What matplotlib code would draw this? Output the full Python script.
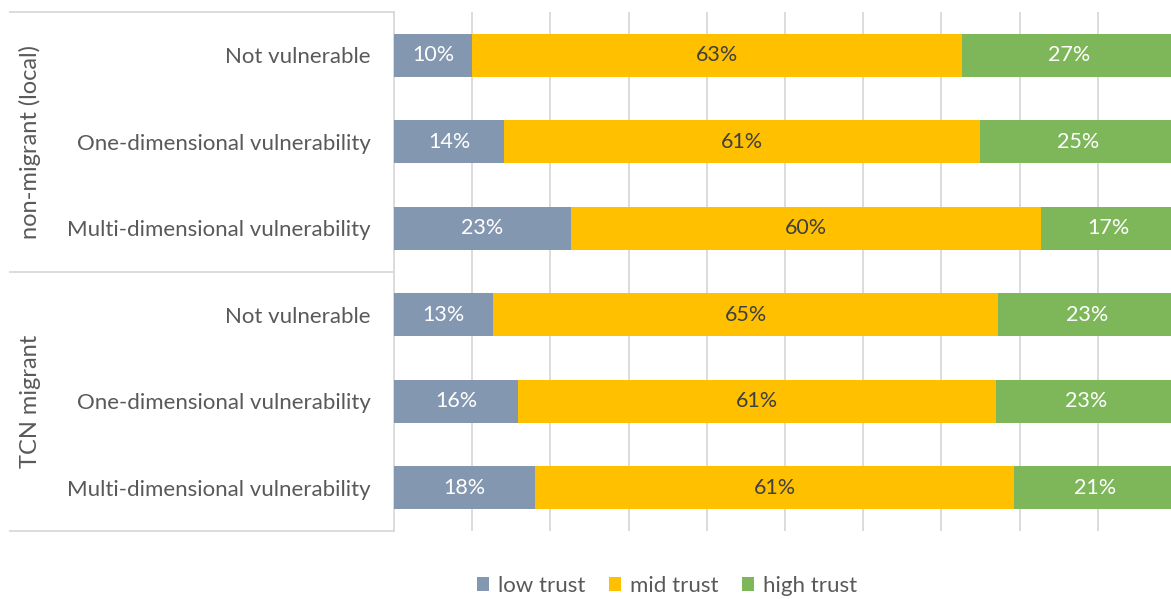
import matplotlib.pyplot as plt

rows = ['Not vulnerable', 'One-dimensional vulnerability', 'Multi-dimensional vulnerability',
        'Not vulnerable', 'One-dimensional vulnerability', 'Multi-dimensional vulnerability']
groups = ['non-migrant (local)', 'TCN migrant']
series = ['low trust', 'mid trust', 'high trust']
low_trust = [0.100, 0.141, 0.226, 0.127, 0.159, 0.180]
mid_trust = [0.626, 0.608, 0.601, 0.646, 0.611, 0.613]
high_trust = [0.274, 0.251, 0.173, 0.227, 0.230, 0.207]

colors = ['#8497B0', '#FFC000', '#7EB75A']
label_colors = ['white', '#404040', 'white']

plt.rcParams['font.family'] = ['Lato', 'DejaVu Sans']
W, H = 1171, 599
fig = plt.figure(figsize=(W / 100, H / 100), dpi=100)
ax = fig.add_axes([394 / W, (H - 531) / H, 782 / W, 519 / H])

y = list(range(len(rows)))
left = [0.0] * len(rows)
for vals, name, c, tc in zip([low_trust, mid_trust, high_trust], series, colors, label_colors):
    bars = ax.barh(y, vals, left=left, height=0.5, color=c, label=name, zorder=3)
    for b, v in zip(bars, vals):
        ax.text(b.get_x() + b.get_width() / 2, b.get_y() + b.get_height() / 2,
                f'{v * 100:.0f}%', ha='center', va='center', color=tc, fontsize=15.5, zorder=4)
    left = [l + v for l, v in zip(left, vals)]

ax.set_xlim(0, 1)
ax.set_ylim(len(rows) - 0.5, -0.5)
ax.set_xticks([i / 10 for i in range(1, 11)])
ax.set_xticklabels([])
ax.tick_params(axis='x', length=0)
ax.grid(axis='x', color='#D9D9D9', linewidth=1.3, zorder=0)
ax.set_yticks(y)
ax.set_yticklabels(rows, fontsize=16, color='#595959')
ax.tick_params(axis='y', length=0, pad=17)
for s in ['top', 'right', 'bottom']:
    ax.spines[s].set_visible(False)
ax.spines['left'].set_color('#D9D9D9')
ax.spines['left'].set_linewidth(1.3)

# group separators and labels on the category axis
for yy in [-0.5, 2.5, 5.5]:
    ax.plot([-0.491, 0], [yy, yy], color='#D9D9D9', linewidth=1.3, clip_on=False,
            transform=ax.get_yaxis_transform())
for i, g in enumerate(groups):
    ax.text(-0.465, 1 + 3 * i, g, rotation=90, ha='center', va='center', fontsize=17,
            color='#595959', transform=ax.get_yaxis_transform())

fig.legend(loc='center', bbox_to_anchor=(667 / W, (H - 586) / H), ncol=3, frameon=False,
           fontsize=16, handlelength=0.55, handleheight=0.55, handletextpad=0.4,
           columnspacing=1.05, labelcolor='#595959')

fig.savefig('out.png', dpi=100)
